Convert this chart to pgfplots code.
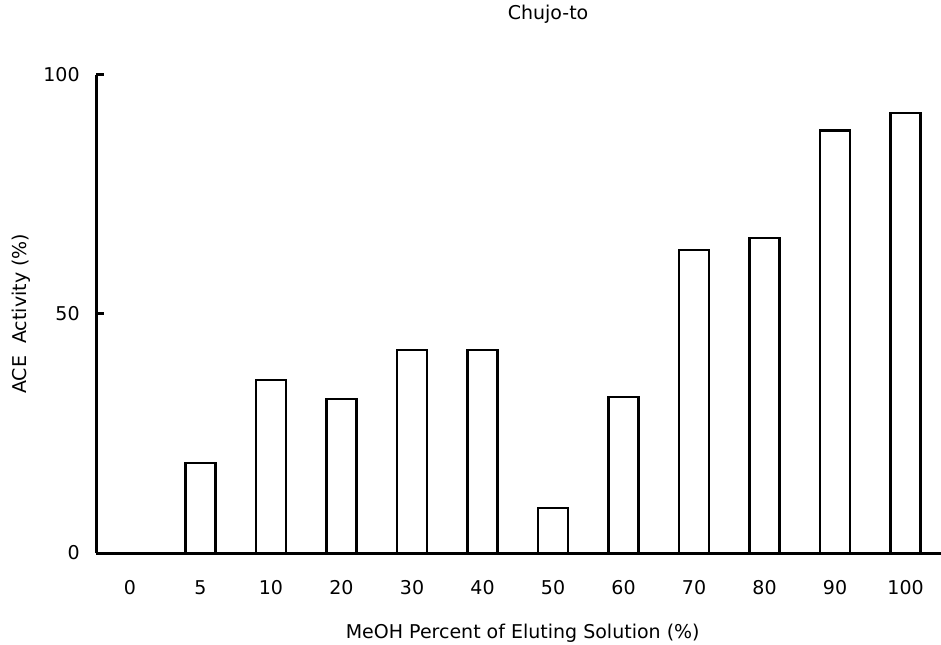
\documentclass[border=0pt]{standalone}
\usepackage{fontspec}
\setmainfont{DejaVu Sans}
\usepackage{pgfplots}
\pgfplotsset{compat=1.18}

\begin{document}
\begin{tikzpicture}[font=\fontsize{9.5}{11}\selectfont]
\path[use as bounding box] (0,0) rectangle (470.5pt,322pt);
\begin{axis}[
  at={(48pt,45.5pt)}, anchor=south west,
  scale only axis, width=422.5pt, height=239.2pt,
  xmin=-0.482, xmax=11.503, ymin=0, ymax=100,
  axis x line=bottom, axis y line=left,
  axis line style={-, line width=1.5pt},
  xtick={0,...,11},
  xticklabels={0,5,10,20,30,40,50,60,70,80,90,100},
  ytick={0,50,100},
  tick align=inside, major tick length=4pt,
  xtick style={draw=none}, ytick style={line width=1.5pt, black},
  xticklabel style={anchor=center, yshift=-17.5pt},
  yticklabel style={anchor=east, inner sep=0pt, xshift=-8pt},
  /pgf/number format/assume math mode=true,
  title={Chujo-to},
  title style={at={(0.535,1.1016)}, anchor=center},
  xlabel={MeOH Percent of Eluting Solution (\%)},
  xlabel style={at={(0.505,-0.1672)}, anchor=center},
  ylabel={ACE\ \ Activity (\%)},
  ylabel style={at={(-0.0888,0.5)}, anchor=center},
]
% ACE activity per MeOH fraction
\addplot[ybar, bar width=15pt, draw=black, fill=white, line width=1.2pt]
  coordinates {(0,0)(1,18.8)(2,36.2)(3,32.2)(4,42.4)(5,42.4)(6,9.4)(7,32.6)(8,63.3)(9,65.9)(10,88.3)(11,92.0)};
\end{axis}
\end{tikzpicture}
\end{document}
